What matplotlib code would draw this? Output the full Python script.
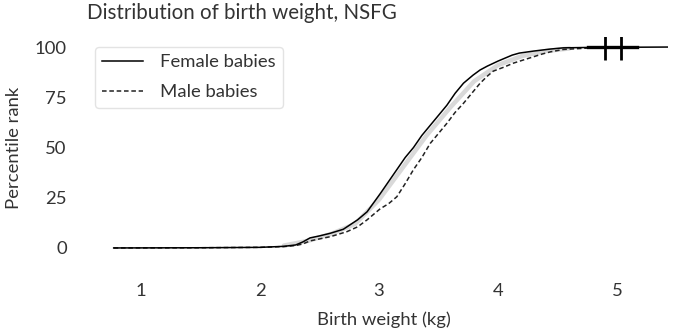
import matplotlib.pyplot as plt

# values
female_kg = [0.77, 1.5, 2.0, 2.2, 2.30, 2.36, 2.42, 2.50, 2.59, 2.70, 2.82, 2.90,
             3.01, 3.08, 3.15, 3.22, 3.29, 3.36, 3.43, 3.50, 3.57, 3.64, 3.71,
             3.79, 3.85, 3.91, 4.00, 4.08, 4.12, 4.18, 4.30, 4.44, 4.55, 4.76, 5.43]
female_pct = [0, 0.1, 0.3, 0.8, 1.5, 3.0, 5.0, 6.0, 7.3, 9.3, 14, 18,
              27, 33, 39, 45, 50, 56, 61, 66, 71, 77, 82,
              86, 88.6, 90.5, 93, 95, 96, 97, 98, 99, 99.6, 99.8, 100]

male_kg = [0.77, 1.5, 2.0, 2.2, 2.30, 2.36, 2.42, 2.50, 2.59, 2.73, 2.82, 2.90,
           3.01, 3.08, 3.15, 3.22, 3.29, 3.36, 3.43, 3.50, 3.57, 3.64, 3.71,
           3.78, 3.85, 3.91, 3.96, 4.05, 4.13, 4.21, 4.29, 4.37, 4.44, 4.55, 4.76, 5.17]
male_pct = [0, 0.1, 0.3, 0.7, 1.2, 2.0, 3.5, 4.5, 5.6, 8.1, 10.5, 14,
            19.5, 22, 25.5, 32, 39, 45, 52, 57, 62, 67.5, 72,
            77, 82, 85.5, 88, 90, 92, 93.5, 95, 96.5, 97.6, 98.8, 99.5, 100]

# grey model curve behind the data
model_kg = [2.2, 2.4, 2.6, 2.8, 3.0, 3.2, 3.4, 3.6, 3.8, 4.0, 4.2, 4.4, 4.6]
model_pct = [1.2, 3.5, 7.0, 12, 24, 40, 56, 70, 83, 91, 95.5, 98, 99.3]

top_kg = [4.76, 5.17]
top_pct = [100, 100]
tick_marks_kg = [4.90, 5.03]
tick_marks_pct = [100, 100]

xticks = [1, 2, 3, 4, 5]
yticks = [0, 25, 50, 75, 100]

plt.rcParams['font.family'] = ['Lato', 'DejaVu Sans']
text_color = '#333333'
fs = 13.3

fig = plt.figure(figsize=(6.73, 3.32), dpi=100)
ax = fig.add_axes([100 / 673, 1 - 258 / 332, 568 / 673, 221 / 332])

ax.plot(model_kg, model_pct, color='#d9d9d9', lw=3.2, solid_capstyle='round', zorder=1)
ax.plot(female_kg, female_pct, color='black', lw=1.1, label='Female babies', zorder=3)
ax.plot(male_kg, male_pct, color='#222222', lw=1.1, ls=(0, (3, 1.8)),
        label='Male babies', zorder=2)
ax.plot(top_kg, top_pct, color='black', lw=2.4, zorder=4)
ax.plot(tick_marks_kg, tick_marks_pct, ls='none', marker='|', color='black',
        markersize=18, markeredgewidth=2, zorder=5)

ax.set_xlim(0.655, 5.429)
ax.set_ylim(-5, 105)
ax.set_xticks(xticks)
ax.set_yticks(yticks)
for s in ax.spines.values():
    s.set_visible(False)
ax.tick_params(axis='x', length=0, pad=18, labelsize=fs, labelcolor=text_color)
ax.tick_params(axis='y', length=0, pad=24, labelsize=fs, labelcolor=text_color)

ax.set_xlabel('Birth weight (kg)', fontsize=fs, color=text_color, labelpad=9)
ax.set_ylabel('Percentile rank', fontsize=fs, color=text_color, labelpad=9)
fig.text(87 / 673, 1 - 13 / 332, 'Distribution of birth weight, NSFG',
         fontsize=14.8, color=text_color, ha='left', va='center')

leg = ax.legend(loc='upper left', bbox_to_anchor=(-5 / 568, 211 / 221), fontsize=fs,
                frameon=True, fancybox=True, handlelength=2.2, borderpad=0.4,
                labelspacing=0.75, handletextpad=0.9, borderaxespad=0)
leg.get_frame().set_edgecolor('#dddddd')
leg.get_frame().set_linewidth(1)
for t in leg.get_texts():
    t.set_color(text_color)

plt.savefig('out.png', dpi=100)
